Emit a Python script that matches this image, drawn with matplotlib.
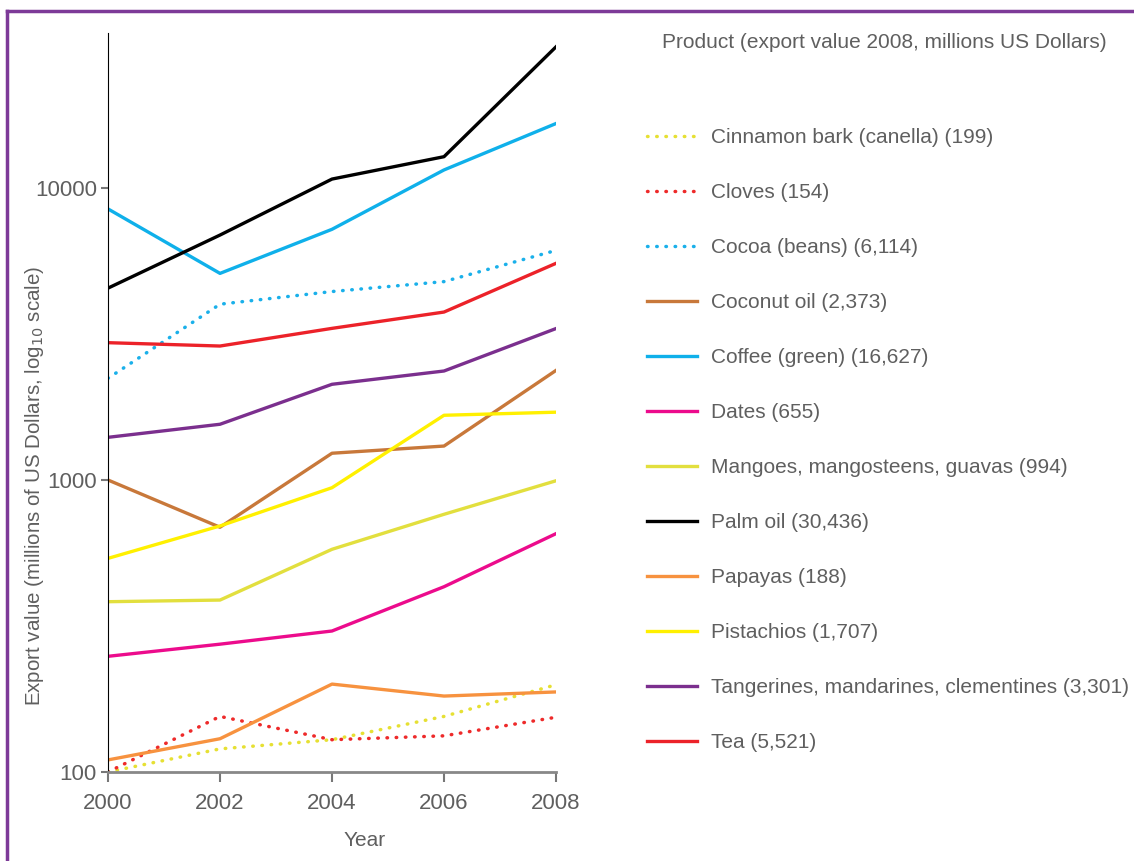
import numpy as np
import matplotlib
matplotlib.use("Agg")
import matplotlib.pyplot as plt
from matplotlib.lines import Line2D

plt.rcParams['font.family'] = ['Liberation Sans', 'DejaVu Sans']

years = [2000, 2002, 2004, 2006, 2008]

products = ["Cinnamon bark (canella) (199)", "Cloves (154)", "Cocoa (beans) (6,114)",
            "Coconut oil (2,373)", "Coffee (green) (16,627)", "Dates (655)",
            "Mangoes, mangosteens, guavas (994)", "Palm oil (30,436)", "Papayas (188)",
            "Pistachios (1,707)", "Tangerines, mandarines, clementines (3,301)", "Tea (5,521)"]

cinnamon = [100, 120, 129, 155, 199]
cloves = [100, 155, 129, 133, 154]
cocoa = [2230, 4000, 4420, 4780, 6114]
coconut = [1000, 689, 1235, 1307, 2373]
coffee = [8480, 5100, 7220, 11530, 16627]
dates = [249, 274, 304, 431, 655]
mangoes = [383, 388, 579, 763, 994]
palm = [4540, 6900, 10730, 12800, 30436]
papayas = [110, 130, 200, 182, 188]
pistachios = [539, 696, 941, 1666, 1707]
tangerines = [1400, 1552, 2127, 2362, 3301]
tea = [2953, 2876, 3306, 3760, 5521]

series = [cinnamon, cloves, cocoa, coconut, coffee, dates, mangoes, palm,
          papayas, pistachios, tangerines, tea]
colors = ["#e6e033", "#ee2a2a", "#1ab0ea", "#c8783a", "#0fb0ea", "#ec0b8c",
          "#e2df3e", "#000000", "#f7923f", "#fff000", "#7b2f8e", "#ec2229"]
dotted = [True, True, True] + [False] * 9

grey = "#5f5f5f"

fig = plt.figure(figsize=(11.34, 8.61), dpi=100)
ax = fig.add_axes([108 / 1134, 89 / 861, 448 / 1134, 739 / 861])

for vals, c, dot, lab in zip(series, colors, dotted, products):
    if dot:
        ax.plot(years, vals, color=c, linestyle=(0, (0.15, 2.5)), lw=2.5,
                dash_capstyle="round", label=lab)
    else:
        ax.plot(years, vals, color=c, lw=2.4, label=lab)

ax.set_yscale("log")
ax.set_xlim(2000, 2008)
ax.set_ylim(100, 10 ** (2 + 739 / 292))
ax.set_xticks(years)
ax.set_yticks([100, 1000, 10000])
ax.set_yticklabels(["100", "1000", "10000"])
ax.yaxis.set_minor_locator(matplotlib.ticker.NullLocator())
ax.tick_params(axis="both", colors="#777777", labelcolor=grey, labelsize=16,
               length=7, width=1.5)
ax.tick_params(axis="x", pad=8)
ax.tick_params(axis="y", length=5, pad=3)
for s in ["top", "right"]:
    ax.spines[s].set_visible(False)
ax.spines["left"].set_color("black")
ax.spines["left"].set_linewidth(0.8)
ax.spines["bottom"].set_color("#888888")
ax.spines["bottom"].set_linewidth(2)

fig.text(365 / 1134, 1 - 840 / 861, "Year", ha="center", va="center",
         color=grey, fontsize=15)
fig.text(35 / 1134, 1 - 486 / 861,
         "Export value (millions of US Dollars, log$_{10}$ scale)",
         rotation=90, ha="center", va="center", color=grey, fontsize=14.8)

fig.text(662 / 1134, 1 - 43 / 861, "Product (export value 2008, millions US Dollars)",
         ha="left", va="center", color=grey, fontsize=15)

leg = ax.legend(loc="upper left", bbox_to_anchor=(647 / 1134, 1 - 128 / 861),
                bbox_transform=fig.transFigure, frameon=False, fontsize=15,
                handlelength=2.4, handletextpad=0.67, labelspacing=1.73,
                borderaxespad=0, borderpad=0)
for t in leg.get_texts():
    t.set_color(grey)

# purple frame (top and left only)
fig.add_artist(Line2D([7 / 1134, 1], [1 - 11 / 861, 1 - 11 / 861],
                      transform=fig.transFigure, color="#7d3a98", lw=2.5))
fig.add_artist(Line2D([7 / 1134, 7 / 1134], [0, 1 - 11 / 861],
                      transform=fig.transFigure, color="#7d3a98", lw=2.5))

fig.savefig("out.png", dpi=100)
